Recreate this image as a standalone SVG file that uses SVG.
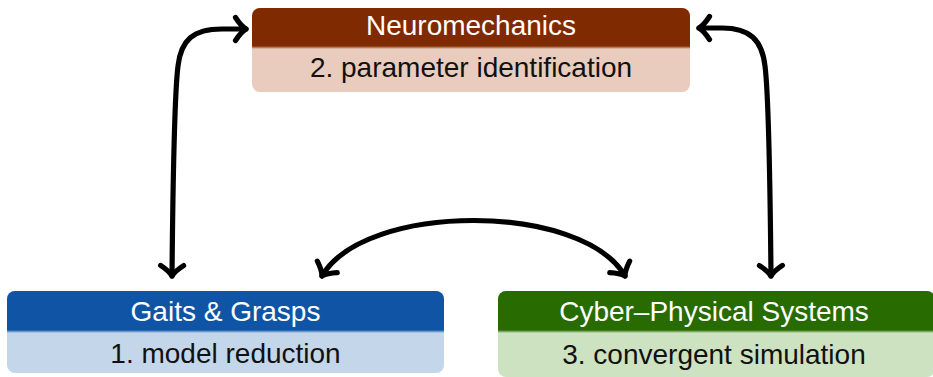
<svg xmlns="http://www.w3.org/2000/svg" width="933" height="377" viewBox="0 0 933 377">
  <style>
    .title { font-family: "Liberation Sans", Arial, sans-serif; font-size: 28px; fill: #ffffff; text-anchor: middle; }
    .step  { font-family: "Liberation Sans", Arial, sans-serif; font-size: 28px; fill: #111111; text-anchor: middle; }
    .link  { fill: none; stroke: #000000; stroke-width: 5.2; stroke-linecap: round; marker-start: url(#tip); marker-end: url(#tip); }
  </style>
  <defs>
    <marker id="tip" viewBox="-16 -16 32 32" refX="0" refY="0" markerWidth="32" markerHeight="32" markerUnits="userSpaceOnUse" orient="auto-start-reverse" overflow="visible">
      <path d="M-10.5,-11.5 Q-5,-3 0,0 Q-5,3 -10.5,11.5" fill="none" stroke="#000000" stroke-width="5.2" stroke-linecap="round" stroke-linejoin="round"/>
    </marker>
    <linearGradient id="fadeBrown" x1="0" y1="0" x2="0" y2="1">
      <stop offset="0" stop-color="#7f2a00"/>
      <stop offset="1" stop-color="#e9ccbd"/>
    </linearGradient>
    <linearGradient id="fadeBlue" x1="0" y1="0" x2="0" y2="1">
      <stop offset="0" stop-color="#1055a5"/>
      <stop offset="1" stop-color="#c4d6ea"/>
    </linearGradient>
    <linearGradient id="fadeGreen" x1="0" y1="0" x2="0" y2="1">
      <stop offset="0" stop-color="#286b00"/>
      <stop offset="1" stop-color="#cde2c1"/>
    </linearGradient>
  </defs>

  <!-- Neuromechanics -->
  <g id="neuromechanics">
    <rect x="252" y="8" width="438" height="84" rx="8" fill="#e9ccbd"/>
    <path d="M252,46 V16 A8,8 0 0 1 260,8 H682 A8,8 0 0 1 690,16 V46 Z" fill="#7f2a00"/>
    <rect x="252" y="46" width="438" height="3" fill="url(#fadeBrown)"/>
    <text class="title" x="471" y="34.5">Neuromechanics</text>
    <text class="step" x="471" y="77">2. parameter identification</text>
  </g>

  <!-- Gaits & Grasps -->
  <g id="gaits-grasps">
    <rect x="7" y="291" width="437" height="82" rx="8" fill="#c4d6ea"/>
    <path d="M7,330 V299 A8,8 0 0 1 15,291 H436 A8,8 0 0 1 444,299 V330 Z" fill="#1055a5"/>
    <rect x="7" y="330" width="437" height="3" fill="url(#fadeBlue)"/>
    <text class="title" x="225.5" y="320.5">Gaits &amp; Grasps</text>
    <text class="step" x="225.5" y="363">1. model reduction</text>
  </g>

  <!-- Cyber–Physical Systems -->
  <g id="cyber-physical">
    <rect x="498" y="291" width="437" height="86" rx="8" fill="#cde2c1"/>
    <path d="M498,330 V299 A8,8 0 0 1 506,291 H927 A8,8 0 0 1 935,299 V330 Z" fill="#286b00"/>
    <rect x="498" y="330" width="437" height="3" fill="url(#fadeGreen)"/>
    <text class="title" x="714" y="320.5">Cyber–Physical Systems</text>
    <text class="step" x="714" y="364">3. convergent simulation</text>
  </g>

  <!-- two-headed connectors -->
  <g id="connectors">
    <path class="link" d="M172,276 C173,170 175,90 178,66 C181,40 193,29 222,29 L246,29"/>
    <path class="link" d="M771,276 C770,170 768,90 765,66 C762,40 750,28 722,28 L699,28"/>
    <path class="link" d="M322,276 C365,202 582,202 625,276"/>
  </g>
</svg>
